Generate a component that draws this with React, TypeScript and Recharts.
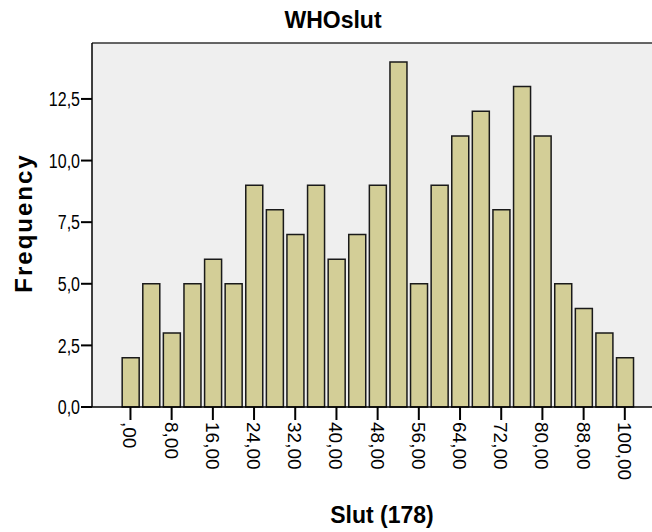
import React from "react";
import {
  ComposedChart,
  Bar,
  XAxis,
  YAxis,
  CartesianGrid,
  ReferenceLine,
} from "recharts";

// bin midpoints of Slut (178) and their counts
const binCenters = [
  0, 4.17, 8.33, 12.5, 16.67, 20.83, 25, 29.17, 33.33, 37.5, 41.67, 45.83, 50,
  54.17, 58.33, 62.5, 66.67, 70.83, 75, 79.17, 83.33, 87.5, 91.67, 95.83, 100,
];
const frequencies = [
  2, 5, 3, 5, 6, 5, 9, 8, 7, 9, 6, 7, 9, 14, 5, 9, 11, 12, 8, 13, 11, 5, 4, 3, 2,
];
// ticks sit on every other bin, SPSS prints rounded labels
const xTickPositions = [0, 8.33, 16.67, 25, 33.33, 41.67, 50, 58.33, 66.67, 75, 83.33, 91.67, 100];
const xTickLabels = [",00", "8,00", "16,00", "24,00", "32,00", "40,00", "48,00", "56,00", "64,00", "72,00", "80,00", "88,00", "100,00"];
const yTicks = [0, 2.5, 5, 7.5, 10, 12.5];

const data = binCenters.map((x, i) => ({ x, count: frequencies[i] }));

const FONT = "'Liberation Sans', Arial, sans-serif";

const fmtY = (v: number) => v.toFixed(1).replace(".", ",");

const XTick = (props: any) => {
  const { x, y, payload } = props;
  const idx = xTickPositions.indexOf(payload.value);
  return (
    <text
      transform={`translate(${x - 7},${y}) rotate(90)`}
      textAnchor="start"
      fontFamily={FONT}
      fontSize={19}
      fill="#000"
    >
      {xTickLabels[idx]}
    </text>
  );
};

const YTick = (props: any) => {
  const { x, y, payload } = props;
  return (
    <text
      transform={`translate(${x + 1},${y}) scale(0.8,1)`}
      textAnchor="end"
      dy="0.36em"
      fontFamily={FONT}
      fontSize={20}
      fill="#000"
    >
      {fmtY(payload.value)}
    </text>
  );
};

export default function App() {
  return (
    <div style={{ position: "absolute", left: 0, top: 0, width: 652, height: 532 }}>
      <ComposedChart
        width={652}
        height={532}
        data={data}
        margin={{ top: 43, right: 0, left: 0, bottom: 0 }}
      >
        <CartesianGrid fill="#efefef" horizontal={false} vertical={false} />
        <XAxis
          dataKey="x"
          type="number"
          domain={[-7.78, 105.5]}
          ticks={xTickPositions}
          interval={0}
          tickSize={13}
          tick={<XTick />}
          axisLine={{ stroke: "#000", strokeWidth: 1.5 }}
          tickLine={{ stroke: "#000", strokeWidth: 2 }}
          height={125}
        />
        <YAxis
          type="number"
          domain={[0, 14.77]}
          ticks={yTicks}
          interval={0}
          width={92}
          tickSize={11}
          tick={<YTick />}
          axisLine={{ stroke: "#000", strokeWidth: 1.5 }}
          tickLine={{ stroke: "#000", strokeWidth: 2 }}
        />
        <ReferenceLine y={14.77} stroke="#333" strokeWidth={1.5} />
        <Bar
          dataKey="count"
          barSize={17}
          fill="#d3ce97"
          stroke="#1a1a1a"
          strokeWidth={1.5}
          isAnimationActive={false}
        />
      </ComposedChart>
      <svg
        width={652}
        height={532}
        style={{ position: "absolute", left: 0, top: 0, pointerEvents: "none" }}
      >
        <text x={333} y={28} textAnchor="middle" fontFamily={FONT} fontWeight="bold" fontSize={23}>
          WHOslut
        </text>
        <text
          transform="translate(32,223) rotate(-90)"
          textAnchor="middle"
          fontFamily={FONT}
          fontWeight="bold"
          fontSize={24}
          letterSpacing={2}
        >
          Frequency
        </text>
        <text x={382} y={523} textAnchor="middle" fontFamily={FONT} fontWeight="bold" fontSize={23}>
          Slut (178)
        </text>
      </svg>
    </div>
  );
}
